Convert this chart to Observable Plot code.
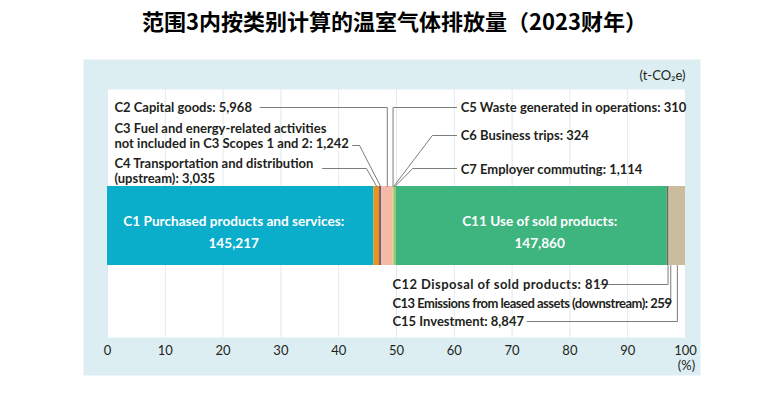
<!DOCTYPE html>
<html>
<head>
<meta charset="utf-8">
<script src="https://cdn.jsdelivr.net/npm/d3@7"></script>
<script src="https://cdn.jsdelivr.net/npm/@observablehq/plot@0.6"></script>
<style>
  html, body { margin: 0; padding: 0; background: #fff; }
  #chart svg { overflow: visible; display: block; }
  .tight text { letter-spacing: -0.5px; }
  .wide text { letter-spacing: 0.45px; }
</style>
</head>
<body>
<div id="chart"></div>
<script>
// ---- data (drawing order, left to right) ----
const categories = ["C1", "C4", "C3", "C2", "C5", "C6", "C7", "C11", "C12", "C13", "C15"];
const values = [145217, 3035, 1242, 5968, 310, 324, 1114, 147860, 819, 259, 8847];
const colors = ["#0aadca", "#e6961f", "#7b5a76", "#f4b9a7", "#d9c27e", "#b9cf74", "#9fc45c", "#3eb47f", "#6a6a5c", "#8c7f6c", "#cbbc9d"];
const labelTexts = {
  C2: "C2 Capital goods: 5,968",
  C3: "C3 Fuel and energy-related activities\nnot included in C3 Scopes 1 and 2: 1,242",
  C4: "C4 Transportation and distribution\n(upstream): 3,035",
  C5: "C5 Waste generated in operations: 310",
  C6: "C6 Business trips: 324",
  C7: "C7 Employer commuting: 1,114",
  C12: "C12 Disposal of sold products: 819",
  C13: "C13 Emissions from leased assets (downstream): 259",
  C15: "C15 Investment: 8,847"
};
const insideTexts = {
  C1: "C1 Purchased products and services:\n145,217",
  C11: "C11 Use of sold products:\n147,860"
};
const xTicks = [0, 10, 20, 30, 40, 50, 60, 70, 80, 90, 100];
const xTickUnit = "(%)";
const titleText = "范围3内按类别计算的温室气体排放量（2023财年）";
const unitText = "(t-CO₂e)";

// ---- derived stacking ----
const total = d3.sum(values);
let acc = 0;
const rows = categories.map((c, i) => {
  const s = values[i] / total * 100;
  const r = {cat: c, x1: acc, x2: acc + s, mid: acc + s / 2, color: colors[i]};
  acc += s;
  return r;
});
const byCat = Object.fromEntries(rows.map(r => [r.cat, r]));

// ---- layout (label placement) ----
const BAR_TOP = 186, BAR_BOTTOM = 265;
const labels = [
  {cat: "C2", x: 1.2, y: 107},
  {cat: "C3", x: 1.2, y: 135.5},
  {cat: "C4", x: 1.2, y: 170.5},
  {cat: "C5", x: 61.1, y: 107},
  {cat: "C6", x: 61.1, y: 135},
  {cat: "C7", x: 61.1, y: 168.5},
  {cat: "C15", x: 49.3, y: 321}
];
const tightLabels = [{cat: "C13", x: 49.3, y: 302.5}];
const wideLabels = [{cat: "C12", x: 49.3, y: 284}];
const insideShift = {C1: -7, C11: 8};

// leader lines: label-side points, then bar anchor
const leaders = [
  {cat: "C2", pts: [[26.4, 107]], turnY: 107, end: BAR_TOP},
  {cat: "C3", pts: [[42.4, 145], [43.6, 145]], end: BAR_TOP},
  {cat: "C4", pts: [[37.2, 168], [44.8, 168]], end: BAR_TOP},
  {cat: "C5", pts: [[60.4, 107]], turnY: 107, end: BAR_TOP},
  {cat: "C6", pts: [[60.4, 135], [56.2, 135]], end: BAR_TOP},
  {cat: "C7", pts: [[60.4, 168], [52.8, 168]], end: BAR_TOP},
  {cat: "C12", pts: [[85.3, 284]], turnY: 284, end: BAR_BOTTOM},
  {cat: "C13", pts: [[95.7, 302]], turnY: 302, end: BAR_BOTTOM, nudge: 0.3},
  {cat: "C15", pts: [[72.6, 321]], turnY: 321, end: BAR_BOTTOM}
];
const leaderPts = [];
for (const L of leaders) {
  const mx = byCat[L.cat].mid + (L.nudge || 0);
  L.pts.forEach(([x, y]) => leaderPts.push({id: L.cat, x, y}));
  if (L.turnY !== undefined) leaderPts.push({id: L.cat, x: mx, y: L.turnY});
  leaderPts.push({id: L.cat, x: mx, y: L.end});
}

const labelFont = "Lato, 'Open Sans', sans-serif";
const labelStyle = {x: "x", y: "y", text: d => labelTexts[d.cat], textAnchor: "start",
  fontFamily: labelFont, fontWeight: 700, fontSize: 13, lineHeight: 1.17, fill: "#231f20"};

const chart = Plot.plot({
  width: 784,
  height: 395,
  marginLeft: 107,
  marginRight: 99,
  marginTop: 0,
  marginBottom: 58,
  style: {background: "#fff", overflow: "visible"},
  x: {domain: [0, 100]},
  y: {domain: [0, 337], range: [0, 337], axis: null},
  marks: [
    Plot.frame({fill: "#ddeef3", stroke: null, insetLeft: -24, insetRight: -15, insetTop: 59, insetBottom: -38}),
    Plot.frame({fill: "#ffffff", stroke: null, insetTop: 89}),
    Plot.ruleX(xTicks, {y1: 89, y2: 337, stroke: "#dfeaee", strokeWidth: 1}),
    Plot.rect(rows, {x1: "x1", x2: "x2", y1: () => BAR_TOP, y2: () => BAR_BOTTOM, fill: "color"}),
    Plot.line(leaderPts, {x: "x", y: "y", z: "id", stroke: "#7d7d7d", strokeWidth: 1, curve: "linear"}),
    Plot.text(labels, labelStyle),
    Plot.text(tightLabels, {...labelStyle, className: "tight"}),
    Plot.text(wideLabels, {...labelStyle, className: "wide"}),
    Plot.text(rows.filter(r => insideTexts[r.cat]), {
      x: "mid", y: () => 229, text: d => insideTexts[d.cat],
      fontFamily: labelFont, fontWeight: 700, fontSize: 13.6, lineHeight: 1.62, fill: "#ffffff"}),
    Plot.text([unitText], {x: () => 100, y: () => 75, text: d => d, textAnchor: "end",
      fontFamily: labelFont, fontSize: 13, fill: "#231f20"}),
    Plot.text([titleText], {y: () => 22, text: d => d, fontFamily: "'Noto Sans CJK SC', sans-serif",
      fontWeight: 700, fontSize: 22, fill: "#000", dx: -2}),
    Plot.axisX({anchor: "bottom", ticks: xTicks, tickSize: 0, tickPadding: 8, label: null,
      tickFormat: d => String(d), fontFamily: labelFont, fontSize: 13, fill: "#231f20"}),
    Plot.text([xTickUnit], {x: () => 100, y: () => 365, text: d => d, fontFamily: labelFont,
      fontSize: 13, fill: "#231f20", dx: 1})
  ]
});
// shift the two in-bar labels slightly as in the reference
d3.select(chart).selectAll("text").filter(function() {
  return this.textContent.startsWith("C1 Purchased") || this.textContent.startsWith("C11 Use");
}).each(function() {
  const key = this.textContent.startsWith("C11") ? "C11" : "C1";
  const t = d3.select(this);
  const tr = t.attr("transform") || "";
  t.attr("transform", tr + ` translate(${insideShift[key]},0)`);
});
document.getElementById("chart").appendChild(chart);
</script>
</body>
</html>
